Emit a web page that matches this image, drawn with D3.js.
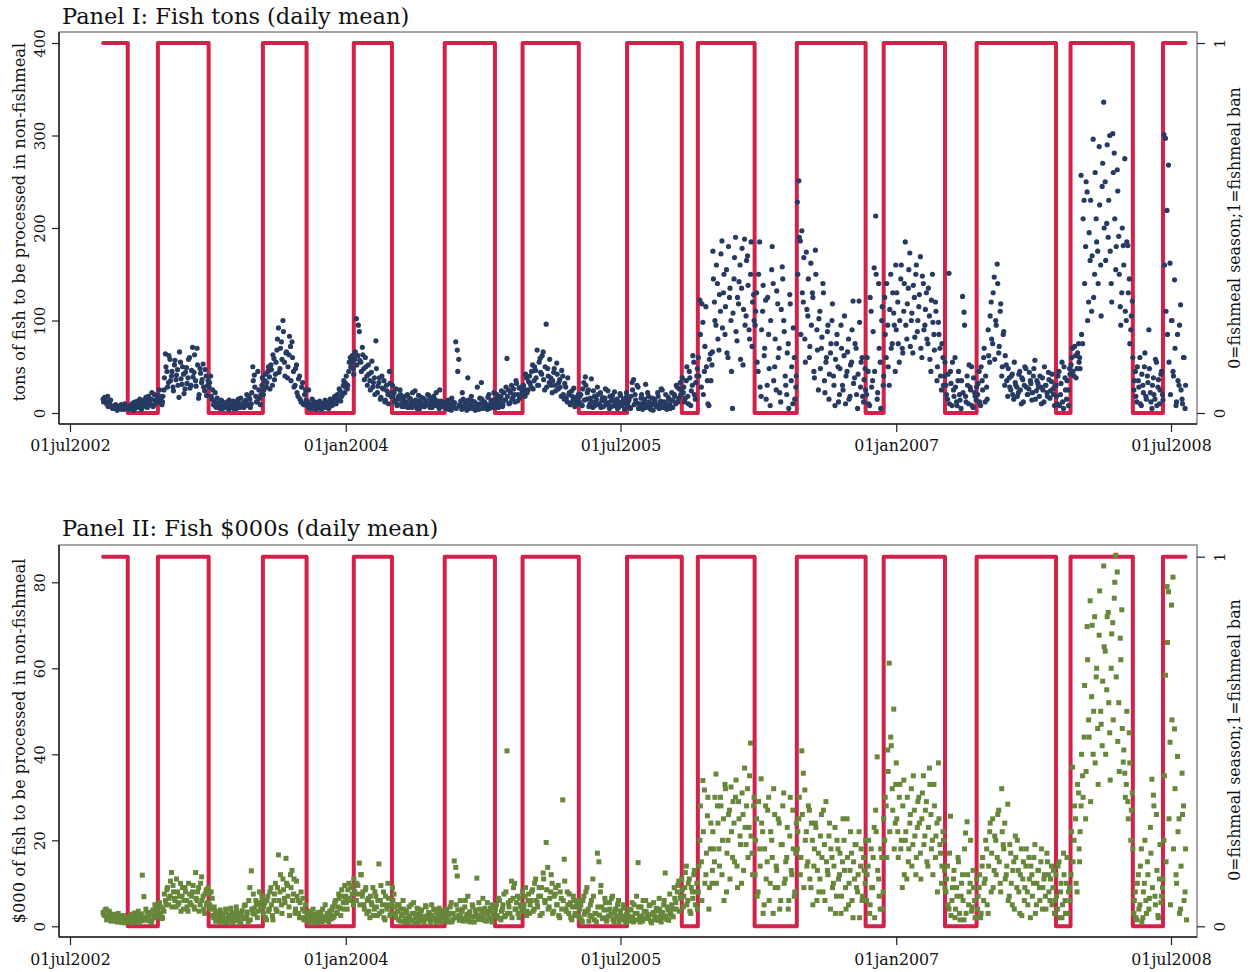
<!DOCTYPE html>
<html><head><meta charset="utf-8">
<script src="https://cdn.jsdelivr.net/npm/d3@7"></script>
<style>
html,body{margin:0;padding:0;background:#fff;}
svg text{font-family:"DejaVu Serif",serif;fill:#111;}
</style></head><body>
<svg id="chart" width="1250" height="972"></svg>
<script>
// ---------------- data ----------------
const tickDates  = ["2002-07-01","2004-01-01","2005-07-01","2007-01-01","2008-07-01"];
const tickLabels = ["01jul2002","01jan2004","01jul2005","01jan2007","01jul2008"];

// fishmeal ban indicator (1 = ban, 0 = fishmeal season), value holds from each date
const banDates  = ["2002-09-05","2002-10-24","2002-12-23","2003-04-03","2003-07-20","2003-10-15",
  "2004-01-17","2004-04-02","2004-07-16","2004-10-24","2004-12-18","2005-04-09","2005-07-14",
  "2005-10-31","2005-12-02","2006-03-25","2006-06-17","2006-11-01","2006-12-07","2007-04-08",
  "2007-06-10","2007-11-15","2007-12-14","2008-04-16","2008-06-15","2008-07-30"];
const banValues = [1,0,1,0,1,0,1,0,1,0,1,0,1,0,1,0,1,0,1,0,1,0,1,0,1,1];

// observations every 3 days from each year's start date (two interleaved sets)
const obsStepDays = 3;
const yearStartsA = ["2002-09-05","2003-01-01","2004-01-01","2005-01-01","2006-01-01","2007-01-01","2008-01-01"];
const yearStartsB = ["2002-09-06","2003-01-02","2004-01-02","2005-01-02","2006-01-02","2007-01-02","2008-01-02"];

// Panel I: tons of fish (daily mean) — set A
const tons2002 = [15,17,12,18,9,14,6,5,8,4,7,5,9,6,4,7,5,
  4,8,6,11,5,9,13,7,10,6,14,8,12,18,9,15,7,20,11,16, 12,18,9];
const tons2003 = [12,25,64,45,33,58,40,28,52,36,47,17,55,31,42,26,49,38,60,30,71,44,35,70,16,48,33,53,24,40,30,
  28,40,15,9,22,6,11,8,14,5,10,7,12,4,9,6,13,8,5,11,7,16,9,6,12,20,8,15,10,50,41,18,12,25,9,30,
  20,35,28,45,39,52,30,59,42,68,92,48,77,100,55,65,38,63,72,77,45,30,52,18,40,12,33,9,25,
  8,25,5,10,7,12,4,9,6,11,5,8,14,6,10,7,13,9,16,11,20,14,24,18,30,22];
const tons2004 = [32,26,45,60,55,48,
  58,102,62,88,55,71,48,60,40,52,35,44,28,38,78,22,33,15,40,26,12,30,20,45,18,
  30,22,14,8,18,25,10,16,7,12,20,9,15,6,11,24,8,13,5,17,10,7,14,9,19,6,12,8,15,22,10,5,13,9,7,
  10,5,14,8,3,12,6,77,68,58,9,4,15,7,11,38,5,9,13,6,3,10,8,16,33,5,12,7,4,20,9,14,6,
  8,15,10,12,18,7,22,14,59,25,11,30,17,20,35,13,27,19,24, 30,18,38,25];
const tons2005 = [40,28,52,35,46,68,30,59,42,66,25,96,48,33,38,22,44,30,54,26,36,18,40,15,28,12,20,9,24,14,7,17,10,
  12,20,8,33,39,15,25,10,37,6,18,12,28,9,22,14,7,16,11,24,5,13,19,8,10,15,6,21,9,12,4,17,
  8,14,5,33,36,20,11,28,7,16,4,12,31,9,18,6,10,3,15,8,22,5,13,25,7,11,4,17,9,14,6,20,10,28,16,33,24,
  22,12,35,18,45,8,30,55,15,40, 60,122,28,98,45,115,35,8,64,52];
const tons2006 = [175,120,95,140,68,110,186,130,85,155,60,125,100,5,145,190,78,118,160,135,52,188,105,170,90,150,72,128,
  95,130,45,185,18,110,62,122,30,85,8,155,140,50,25,118,70,12,158,100,40,20,75,128,35,10,60,28,
  228,251,186,197,120,80,174,105,60,162,130,45,176,90,25,110,70,140,35,55,88,15,65,100,40,8,75,50,20,95,
  30,62,10,45,80,18,55,121,38,70,5,121,28,60,12,48,
  20,45,8,110,35,157,213,15,140,55,100,30, 125,60,95,30,150,75,108,45];
const tons2007 = [90,120,55,145,70,110,185,80,135,173,100,65,125,150,88,115,169,60,140,95,130,75,105,45,150,85,120,35,98,70,25,60,40,
  30,15,151,45,8,25,60,12,35,20,5,126,109,18,40,10,28,50,6,22,14,
  20,45,8,35,60,12,28,90,55,120,75,147,100,161,65,110,40,85,30,52,18,38,25,42,15,33,28,22,45,10,
  36,30,48,20,26,35,14,40,57,24,32,18,28,38,12,30,22,44,16,34,26,8,
  30,10,45,20,55,5,38,15,25,48, 52,70,40,62,48,75];
const tons2008 = [60,257,75,230,180,239,120,165,110,296,150,210,175,288,160,245,336,250,205,190,300,140,302,281,155,263,191,115,130,181,275,100,181,145,90,121,
  25,45,12,35,60,8,30,50,18,40,90,22,5,38,15,55,28,10,42,20,
  301,297,219,268,162,100,45,144,8,85,30,117,15,60,5];

// Panel I — set B (one day later)
const tonsB2002 = [12,16,10,7,13,8,5,6,9,3,6,8,4,7,10,5,6,
  7,5,10,3,12,6,8,15,4,11,9,17,6,13,10,22,8,14,12,19, 25,14];
const tonsB2003 = [18,38,50,28,62,35,45,24,57,41,30,66,37,50,21,44,32,58,27,46,39,63,29,52,20,43,36,28,47,19,35,
  33,18,25,12,7,16,10,5,13,8,11,6,9,14,7,10,5,12,8,15,6,9,11,7,14,10,18,6,22,35,28,12,45,16,20,38,
  25,42,33,50,26,47,63,36,55,80,44,70,58,88,40,66,50,83,35,60,28,48,22,37,15,28,10,20,14,
  12,6,9,15,5,8,11,7,13,4,10,6,12,9,5,15,8,11,18,10,15,26,13,20,35,28];
const tonsB2004 = [40,30,55,50,62,42,
  66,52,95,57,45,63,36,50,30,42,25,56,33,20,48,29,38,17,27,35,14,24,10,32,22,
  18,12,26,9,15,20,7,13,18,10,6,16,11,22,8,14,5,19,12,9,16,7,12,20,10,15,6,18,11,8,13,25,7,12,10,
  7,12,4,9,16,6,11,5,45,8,13,22,6,10,3,14,8,18,5,12,7,28,4,10,15,6,11,9,17,5,13,8,22,
  12,20,6,16,24,9,14,28,18,10,22,15,26,12,32,20,16,28,22, 26,42,22,34];
const tonsB2005 = [32,45,26,50,38,30,55,44,62,36,50,28,40,58,30,35,48,24,42,33,28,46,20,32,16,38,22,11,18,27,9,13,20,
  18,9,26,14,30,22,7,16,12,24,8,15,20,10,6,17,13,26,9,11,18,7,14,23,10,5,12,19,8,15,10,22,
  12,6,18,25,9,14,30,5,10,20,8,15,6,22,12,4,16,9,13,7,18,10,26,6,12,20,9,15,5,22,13,18,30,12,26,20,38,
  28,16,50,10,38,24,62,20,33,48, 40,85,118,20,72,50,10,58,35,66];
const tonsB2006 = [145,100,160,80,128,172,92,150,115,65,180,135,45,108,168,88,125,142,58,178,112,95,165,138,80,185,120,100,
  110,55,150,28,90,138,70,15,125,48,100,180,35,80,132,60,22,112,145,88,30,65,5,118,50,92,15,40,
  150,190,85,130,168,55,112,145,72,95,125,38,150,68,102,48,82,130,22,60,95,42,75,118,30,58,85,12,48,70,
  25,105,40,66,15,52,90,32,75,20,42,98,55,18,36,25,
  60,10,125,28,88,45,150,22,70,5,115,40, 85,140,50,112,70,130,95,160];
const tonsB2007 = [130,75,100,160,65,140,95,118,155,72,108,138,82,160,100,128,70,148,90,112,80,135,58,122,98,68,110,50,85,40,75,30,55,
  20,42,10,32,55,18,28,8,45,14,35,22,95,12,30,52,25,8,38,18,28,
  32,12,50,25,70,40,15,62,105,80,130,58,95,140,72,118,50,88,62,35,48,28,40,20,55,30,18,42,25,38,
  12,50,28,20,44,32,22,48,15,35,28,40,10,25,50,30,18,36,24,42,20,30,
  18,40,8,32,12,50,25,35,8,42, 60,45,72,38,65,55];
const tonsB2008 = [48,85,210,140,250,100,195,230,170,125,260,185,140,225,105,270,200,165,290,230,175,120,260,210,180,240,150,95,200,160,110,185,130,75,105,60,
  35,18,50,28,10,42,22,65,15,33,48,12,30,20,58,8,36,25,45,14,
  160,110,85,55,20,100,40,70,12,35,95,25,10,60,30];

// Panel II: $000 of fish (daily mean) — set A
const usd2002 = [3.2,2.5,4,1.8,3.5,2.2,1.5,2.8,1.2,2,3,1.6,0.9,1.4,2.1,1.1,1.7,
  1.2,2.4,0.8,1.9,3.1,1.5,2.6,1,2.2,11.9,6.9,1.8,3.3,1.3,2.7,0.9,3.8,2,4.2,3, 2.5,4.5,1.8];
const usd2003 = [2,3.5,6,8.5,5,7,12.5,9.5,6.5,4.5,8,5.5,10,7,4,9,6,3.5,7.5,5,8,4.5,12.5,6,9,5,11.5,7,3,8.5,5.5,
  7.5,4,6.5,2,3.5,1.5,2.8,1,3,2.2,1.2,4,0.8,2.5,1.6,3.2,1,2,4.5,1.4,2.7,0.9,3.6,1.8,5,2.4,1.1,9,12.9,3,4.2,6,2,5.5,3.8,7,
  3,5.5,1.5,7,4,9,2.5,6,10,3.5,16.6,8,5,11,6.5,15.8,9.5,4.5,12,13,7.5,3,10.5,6,2,8,4,1.5,5,
  1.5,3,0.8,2.2,4,1.2,2.6,0.9,1.8,3.3,1.1,2,5,1.4,2.8,3.5,1.7,4.5,2.4,6,3.2,7.5,4.2,8.5,5.5,9.5];
const usd2004 = [7,4,10,6,9,5,
  8,6,9.5,14.7,12,7,5,8.5,3,6.5,2,5.5,9,4,7,2.5,14.5,6,3.5,8,1.5,5,10,4.5,3,
  9,7.5,3,5,1.5,4,2.5,6,1,3.5,2,4.5,1.2,3,5.5,0.8,2.8,4,1.6,3.6,2.2,1,4.8,2.4,3.2,1.4,5,2,3.8,0.9,2.6,4.2,1.8,3,1.2,
  2,4,1,3,5.5,1.5,15.2,13.7,11.7,2.5,6,3.5,1.2,4.5,2,7,3,1,5,2.2,3.8,11.2,1.6,4,2.6,6.5,1.4,3.2,5.5,2,4.2,1,3,
  3,5,2,6,1.5,4,7.5,2.5,40.8,5.5,3,10.5,6.5,10,4,7,2,5,3.5, 4,7,2.5,6];
const usd2005 = [3,6,8.5,4,11,5.5,7,2.5,9,12.4,6,19.5,13.7,4.5,8,10,3.5,7.5,5,9.5,2,6.5,29.4,15.6,4,8,3,5.5,1.5,7,2.5,4.5,6,
  2,5,1,7,3.5,9,4,2.5,6,11,1.5,3,17,15,8,4.5,2,6.5,1.2,3.8,5.5,2.8,7,1,4,2.2,6,3,1.6,5,2.4,0.8,
  1.5,4,2.2,5.5,1,3,7,14.8,2,4.5,1.2,3.5,6,2.8,1.8,5,0.8,3.2,2.4,4.2,1.4,6.5,3,2,5,12.4,1.6,3.8,7.5,2.6,4,9,5.5,8,10.5,6.5,11,
  4.5,9,14,6,11,3,8,12,5,10, 8,20,15,33.9,31.7,12,25.7,4,18,10];
const usd2006 = [22,15,35.4,28,18,30,12,25,33,8,20,27,32.4,16,24,30,14,29,21,10,26,36.8,19,32,23,42.6,17,28,
  12,25,8,18,34.3,22,5,28,15,30,10,20,3,26,14,9,24,6,19,31,11,16,4,21,13,27,7,17,
  18,25,12,40.8,35.6,31.7,22,15,27,9,20,14,24,6,17,11,26,8,19,29,13,21,4,16,10,23,7,18,12,3,
  15,20,9,25,5,13,17,2,11,19,8,22,14,6,16,10,
  6,14,3,18,9,23,27,39.4,11,4,16,8, 20,28,41,61.2,44,32,50.5,24];
const usd2007 = [38,22,30,18,9,34,20,11,15,24,32,19,27,12,23,30,17,25,35,21,29,14,36.8,26,20,33,16,24,38,19,10,22,13,
  8,14,4,25.6,6,11,2,9,16,3,7,12,1.5,21.7,24.3,5,10,3.5,13,6,2,
  4,9,2,14,6,11,18,3,22,8,25,13,20,16,27,10,32,19,24,12,28.4,7,17,5,15,21,9,13,3,18,
  11,6,14,8,16,2,12,10,19,5,13,9,15,4,11,7,17,12,6,14,9,3,
  12,4,15,8,2,17,6,10,3,9, 12,37,20,25,8,31];
const usd2008 = [15,28,35,44,25,69.7,48,75.7,53.4,40,72,58,46,67.7,50,42,83.8,64,55,73,45,60,70.6,76.3,86.3,82.4,52,67,73.6,38.2,35.6,33,29,45,20,31,
  3,8,1.5,12,5,18,2,10,6,15,4,23,34.2,30.5,7,26,2.5,11,5.5,9,
  20,58.4,79,77.8,42.8,74.7,81.2,45.9,12,39.5,25,4,35.6,28,8,1.5];

// Panel II — set B (one day later)
const usdB2002 = [2.8,3.8,1.5,2.4,3,1.2,2,2.6,1.4,1,2.3,1.8,1.3,2.5,0.8,1.9,1.2,
  2,1.1,2.8,1.5,0.9,2.3,3.5,1.7,2.9,1.3,2.1,4,1.6,2.4,3.2,1.4,2.7,5,3.4,2.2, 5.5,3];
const usdB2003 = [4,7.5,5,9,6.5,10.5,4.5,8,6,11,5,7,3.5,9,6,8,4.5,10,5.5,7,9.5,4,6.5,8,3.5,10,6,4,7.5,5,9,
  5,8,2.5,4.5,1.2,3,2,3.8,1.5,2.6,0.9,3.4,1.8,2.2,4.2,1.1,2.9,1.6,3.5,2.3,0.8,3,1.9,4.8,2.1,3.3,6,1.5,4,7.5,2.8,5,3.5,8,4.5,6,
  4.5,2,6,3.5,8,5,1.5,7.5,4,9,6,12,3,8.5,5.5,10,7,2.5,9,6,11,4,7,3,5.5,2,6.5,3.5,2,
  2.4,1,3.5,1.6,2.8,0.8,2,3.2,1.3,2.5,4,1.5,2.2,3,1,2.6,3.8,2,5.5,3,4.5,6.5,2.5,7,4,6];
const usdB2004 = [5.5,8.5,6.5,9.5,7.5,11,
  6,10,7.5,5,12,8,4,9,6,3.5,7,5,2.5,8,4.5,6,3,9.5,5,2,7,4,6.5,2.5,5,
  6,4.5,2,3.5,5,1.2,2.8,4,1.8,3.2,0.9,2.4,5,1.5,3,2,4.2,1,2.6,3.8,1.4,2.2,4.5,1.8,3,0.8,2.5,4,1.6,3.4,2,1.1,3.6,2.3,1.5,
  3.5,1.5,2.6,4.5,1,3,2,5,3.8,1.4,2.4,4,1.8,6,2.8,1.2,3.4,2.2,4.6,1,3,2.5,5.5,1.6,3.6,2,4.2,1.2,2.8,3.5,1.5,5,2.4,
  4,2.5,6.5,1.8,3.5,5,2.2,8,3,4.5,6,2,9,4,5.5,3,6.5,4.5,8, 5,9,3.5,7.5];
const usdB2005 = [5,8,3.5,10,6,4.5,9,7,3,11,5.5,8.5,4,6.5,12,3,7,9,5,2.5,8,4,6,10.5,3.5,5,7.5,2,4.5,6,3,5.5,2.5,
  4,1.5,6,2.8,8,3.5,1.2,5,2.2,7,3,1,4.5,2.6,9.5,1.8,3.8,5.5,1.4,2.4,4,6.5,1.6,3.2,2,5,1,3.6,2.2,4.2,1.3,2.8,
  2.6,1.2,3.8,2,5,1.5,3,4.5,1,2.4,6,1.8,3.4,2.2,4.8,1.2,2.8,5.5,1.6,3.6,2,4,1,3.2,6,2.4,4.5,1.4,3,5,2.2,6.5,4,9.5,3.5,7,8.5,
  7,12.5,5,10,3.5,9,6.5,13,8,4, 14,28,6,22,10,17,30,9,24,13];
const usdB2006 = [18,30,10,24,14,28,20,6,32,17,26,11,22,29,15,34,9,25,19,31,13,23,28,16,35,21,12,30,
  20,7,29,14,24,3,18,11,27,6,22,16,32,9,13,25,4,19,28,10,15,23,6,30,12,18,8,24,
  22,30,16,26,9,20,14,28,11,24,5,18,23,13,8,21,16,27,6,15,12,24,18,9,14,3,20,11,17,7,
  25,13,4,16,10,22,6,15,19,9,12,2,18,7,13,20,
  12,20,5,9,16,2,22,13,7,18,4,25, 30,16,36,22,42,27,18,33];
const usdB2007 = [25,16,33,20,28,12,22,30,18,26,14,35,21,16,29,24,11,31,19,27,15,23,33,18,12,28,21,8,25,17,14,20,9,
  11,5,17,2.5,9,13,4,7,15,1.5,10,6,18,3,12,8,20,4.5,9,2,11,
  7,12,3,16,10,20,5,14,24,17,9,21,12,26,15,8,22,18,11,14,6,19,10,13,4,16,20,8,12,2.5,
  15,9,18,5,11,14,7,16,3,10,13,6,18,9,12,4,15,8,11,5,13,6,
  7,14,2,10,5,12,3,16,8,6, 22,15,28,10,33,18];
const usdB2008 = [22,40,30,56,36,62,44,29,70,50,38,60,33,78,47,57,65,40,72,52,34,68,48,80,58,43,36,62,46,41,30,50,25,38,27,18,
  6,2,10,4,14,1,8,20,3,12,6.5,17,9,28,5,13,2,19,7,11,
  35,15,66,25,5,48,18,32,10,22,3,14,26,6,18];

const tonsA = [tons2002,tons2003,tons2004,tons2005,tons2006,tons2007,tons2008];
const tonsB = [tonsB2002,tonsB2003,tonsB2004,tonsB2005,tonsB2006,tonsB2007,tonsB2008];
const usdA  = [usd2002,usd2003,usd2004,usd2005,usd2006,usd2007,usd2008];
const usdB  = [usdB2002,usdB2003,usdB2004,usdB2005,usdB2006,usdB2007,usdB2008];

// ---------------- drawing ----------------
const parse = d3.utcParse("%Y-%m-%d");
function toSeries(arrays, starts){
  const out = [];
  arrays.forEach((vals, k) => {
    const s = parse(starts[k]);
    vals.forEach((v, i) => out.push({date: d3.utcDay.offset(s, i*obsStepDays), value: v}));
  });
  return out;
}
const banSeries = banDates.map((d,i)=>({date: parse(d), value: banValues[i]}));

const svg = d3.select("#chart");
const x = d3.scaleUtc().domain([parse(tickDates[0]), parse(tickDates[4])]).range([70,1171]);

const RED = "#d3224a";
const panels = [
  {title:"Panel I: Fish tons (daily mean)", titleY:24, box:[59,32,1197,424],
   yDomain:[0,400], yRange:[413,43], banRange:[413,43], yTicks:[0,100,200,300,400],
   yTitle:"tons of fish to be processed in non-fishmeal", yTitleC:222, rTitleC:228, xLabY:27,
   data: toSeries(tonsA, yearStartsA).concat(toSeries(tonsB, yearStartsB)), marker:"circle", color:"#263a62"},
  {title:"Panel II: Fish $000s (daily mean)", titleY:536, box:[59,545,1197,937],
   yDomain:[0,80], yRange:[926.3,582.3], banRange:[926.3,556.7], yTicks:[0,20,40,60,80],
   yTitle:"$000 of fish to be processed in non-fishmeal", yTitleC:741, rTitleC:740, xLabY:28,
   data: toSeries(usdA, yearStartsA).concat(toSeries(usdB, yearStartsB)), marker:"square", color:"#67873a"}
];

panels.forEach(p => {
  const [L,T,R,B] = p.box;
  const g = svg.append("g");
  const y = d3.scaleLinear().domain(p.yDomain).range(p.yRange);
  const yb = d3.scaleLinear().domain([0,1]).range(p.banRange);

  g.append("rect").attr("x",L).attr("y",T).attr("width",R-L).attr("height",B-T)
    .attr("fill","none").attr("stroke","#6a6a6a").attr("stroke-width",1.2);
  g.append("line").attr("x1",L).attr("x2",L).attr("y1",T).attr("y2",B).attr("stroke","#222").attr("stroke-width",1.5);
  g.append("line").attr("x1",L).attr("x2",R).attr("y1",B).attr("y2",B).attr("stroke","#222").attr("stroke-width",1.5);

  g.append("text").attr("x",62).attr("y",p.titleY).attr("font-size",22.5).text(p.title);

  const ax = g.append("g").attr("transform",`translate(${L},0)`)
    .call(d3.axisLeft(y).tickValues(p.yTicks).tickSize(7).tickSizeOuter(0));
  ax.select(".domain").remove();
  ax.selectAll("line").attr("stroke","#222").attr("stroke-width",1.2);
  ax.selectAll("text").attr("x",null).attr("dy",null)
    .attr("transform","translate(-14,0) rotate(-90)").attr("text-anchor","middle")
    .attr("font-size",15).attr("font-family","DejaVu Serif").attr("fill","#111");

  const ar = g.append("g").attr("transform",`translate(${R},0)`)
    .call(d3.axisRight(yb).tickValues([0,1]).tickFormat(d3.format("d")).tickSize(8).tickSizeOuter(0));
  ar.select(".domain").remove();
  ar.selectAll("line").attr("stroke","#222").attr("stroke-width",1.2);
  ar.selectAll("text").attr("x",null).attr("dy",null)
    .attr("transform","translate(28,0) rotate(-90)").attr("text-anchor","middle")
    .attr("font-size",15).attr("font-family","DejaVu Serif").attr("fill","#111");

  const axb = g.append("g").attr("transform",`translate(0,${B})`)
    .call(d3.axisBottom(x).tickValues(tickDates.map(parse)).tickFormat((d,i)=>tickLabels[i]).tickSize(8).tickSizeOuter(0));
  axb.select(".domain").remove();
  axb.selectAll("line").attr("stroke","#222").attr("stroke-width",1.2);
  axb.selectAll("text").attr("y",p.xLabY).attr("dy",null)
    .attr("font-size",15.8).attr("font-family","DejaVu Serif").attr("fill","#111");

  g.append("text").attr("transform",`translate(25,${p.yTitleC}) rotate(-90)`)
    .attr("text-anchor","middle").attr("font-size",16.3).text(p.yTitle);
  g.append("text").attr("transform",`translate(1240,${p.rTitleC}) rotate(-90)`)
    .attr("text-anchor","middle").attr("font-size",15.8).text("0=fishmeal season;1=fishmeal ban");

  g.append("path").datum(banSeries)
    .attr("d", d3.line().x(d=>x(d.date)).y(d=>yb(d.value)).curve(d3.curveStepAfter))
    .attr("fill","none").attr("stroke",RED).attr("stroke-width",4)
    .attr("stroke-linejoin","round").attr("stroke-linecap","round");

  if (p.marker === "circle") {
    g.append("g").selectAll("circle").data(p.data).join("circle")
      .attr("cx",d=>x(d.date)).attr("cy",d=>y(d.value)).attr("r",2.6).attr("fill",p.color);
  } else {
    g.append("g").selectAll("rect").data(p.data).join("rect")
      .attr("x",d=>x(d.date)-2.5).attr("y",d=>y(d.value)-2.5).attr("width",5).attr("height",5).attr("fill",p.color);
  }
});
</script>
</body></html>
